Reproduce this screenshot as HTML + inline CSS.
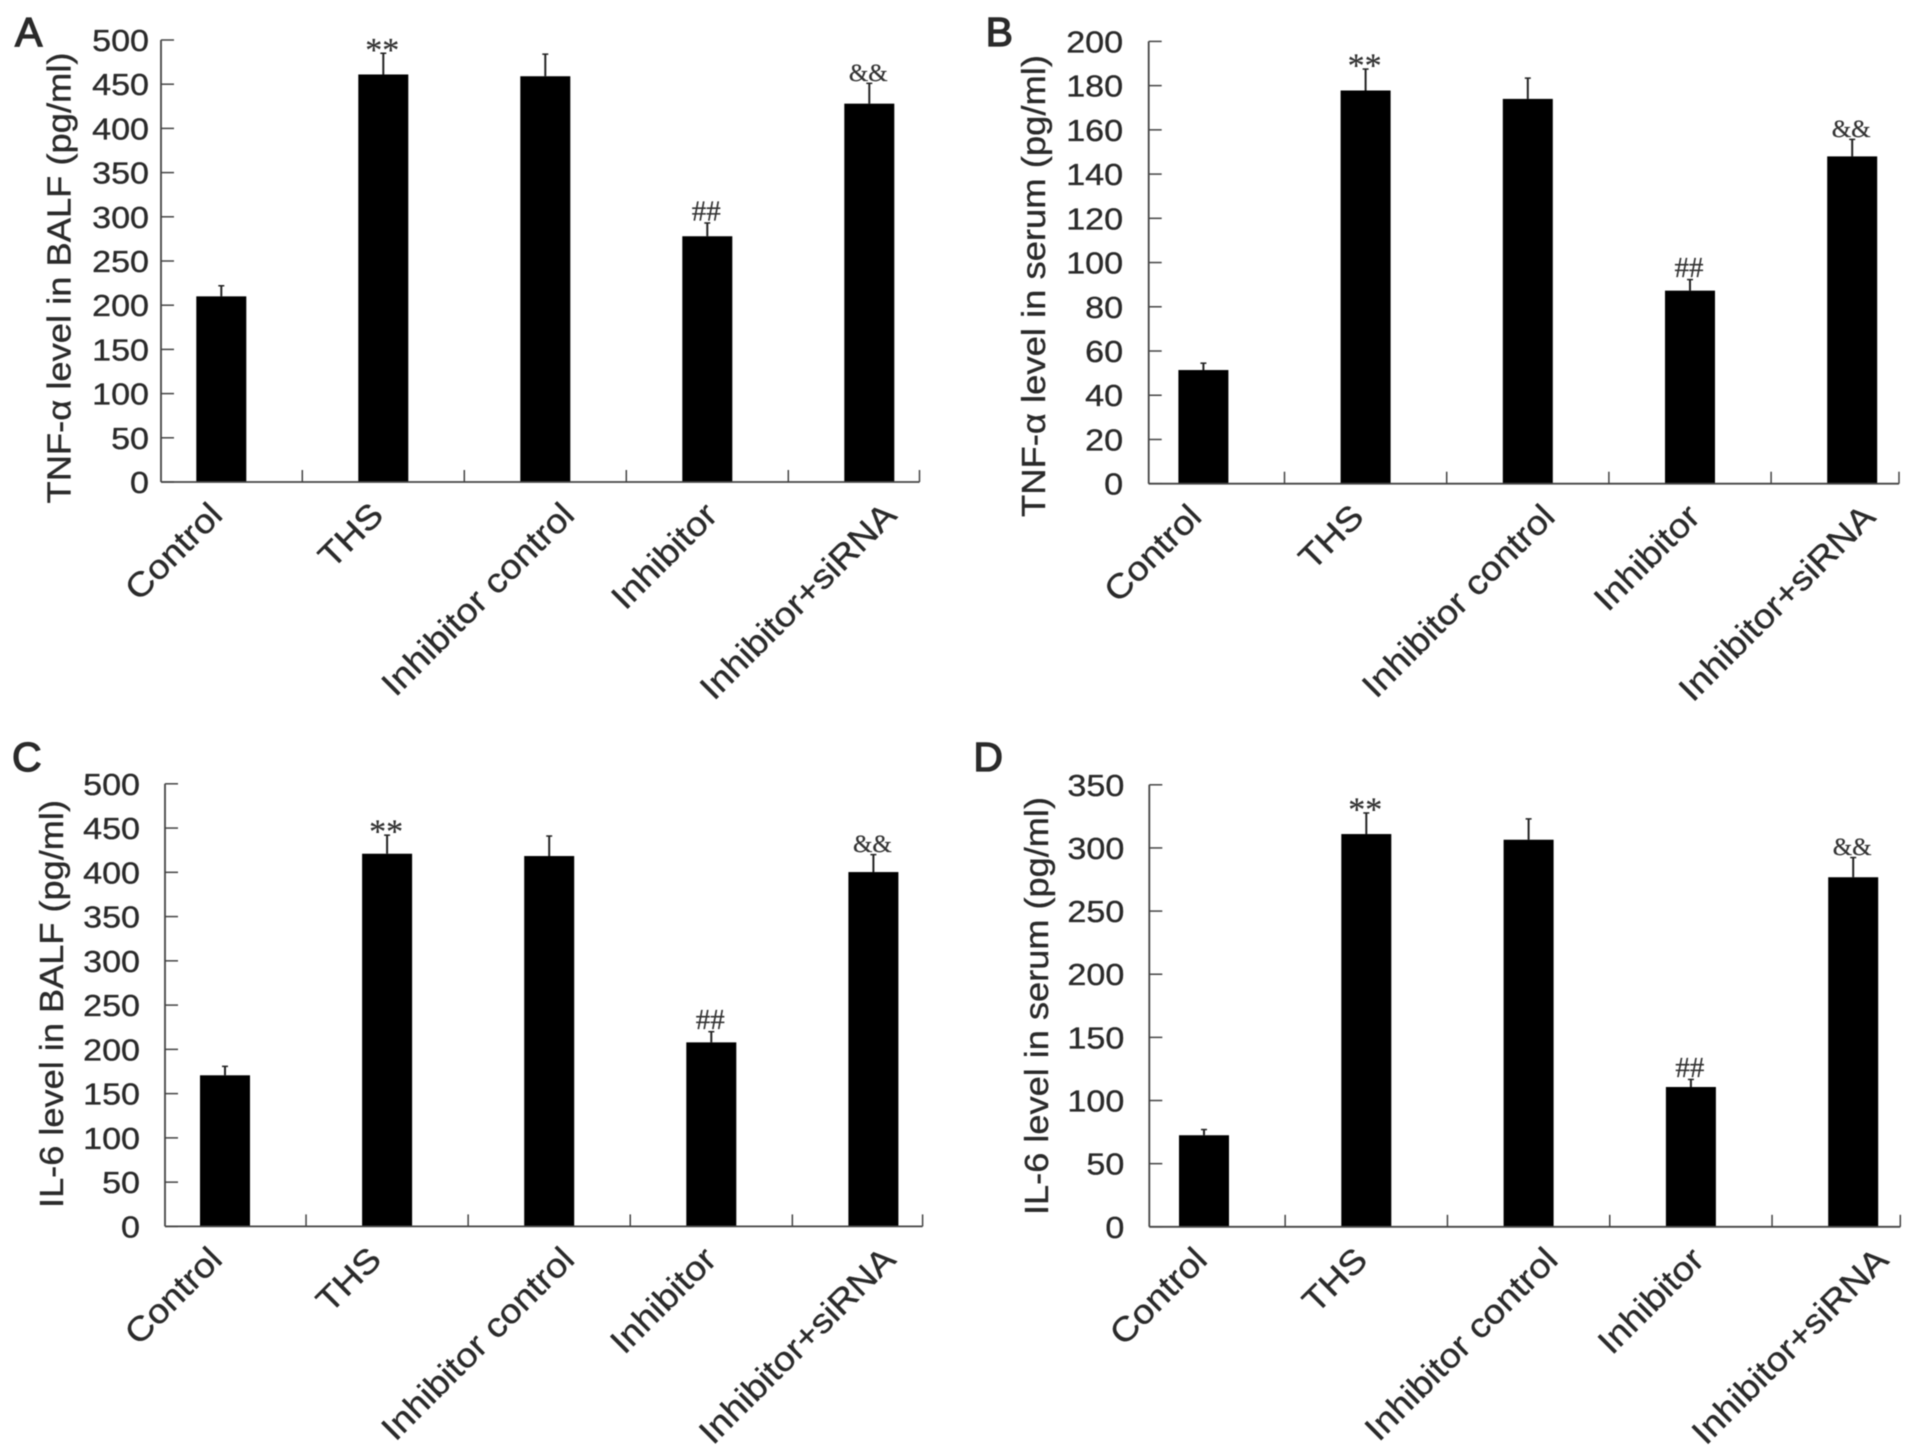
<!DOCTYPE html>
<html lang="en">
<head>
<meta charset="utf-8">
<title>TNF-α and IL-6 levels</title>
<style>
html,body{margin:0;padding:0;background:#fff;width:1913px;height:1455px;overflow:hidden}
svg{display:block;filter:blur(0.5px)}
text{font-family:"Liberation Sans",sans-serif;fill:#2a2a2a;stroke:#2a2a2a;stroke-width:0.35px}
.mark{font-family:"Liberation Serif",serif;fill:#333;stroke-width:0.2px}
</style>
</head>
<body>
<svg id="figure" xmlns="http://www.w3.org/2000/svg" width="1913" height="1455" viewBox="0 0 1913 1455"></svg>
<script>
const categories = ['Control', 'THS', 'Inhibitor control', 'Inhibitor', 'Inhibitor+siRNA'];
const significance = ['', '**', '', '##', '&&'];

const valuesA = [210, 461, 459, 278, 428];
const errorTopsA = [222, 485, 484, 293, 451];
const tickLabelsA = ['0', '50', '100', '150', '200', '250', '300', '350', '400', '450', '500'];

const valuesB = [51.4, 177.8, 174, 87.3, 148];
const errorTopsB = [54.5, 187.5, 183.4, 92.3, 155.7];
const tickLabelsB = ['0', '20', '40', '60', '80', '100', '120', '140', '160', '180', '200'];

const valuesC = [170.7, 421, 418.4, 207.9, 400.3];
const errorTopsC = [180.8, 442, 441, 220, 420];
const tickLabelsC = ['0', '50', '100', '150', '200', '250', '300', '350', '400', '450', '500'];

const valuesD = [72.5, 311, 306.5, 110.7, 276.8];
const errorTopsD = [77, 327.7, 323, 116.7, 292.4];
const tickLabelsD = ['0', '50', '100', '150', '200', '250', '300', '350'];

const panels = [
  {id:'a', letter:'A', letterX:15, letterY:46, title:'TNF-α level in BALF (pg/ml)', values:valuesA, errorTops:errorTopsA, ticks:tickLabelsA,
   left:161, right:919.5, top:40, base:482, first:221.3, step:162, gap:12, titleX:70.5, titleY:278, titleLen:451, shifts:[3,2,31,12,29]},
  {id:'b', letter:'B', letterX:985.6, letterY:46, title:'TNF-α level in serum (pg/ml)', values:valuesB, errorTops:errorTopsB, ticks:tickLabelsB,
   left:1148.7, right:1899, top:41.4, base:483.7, first:1203.4, step:162.2, gap:25.6, titleX:1045, titleY:286, titleLen:462, shifts:[0,0,29,12,25]},
  {id:'c', letter:'C', letterX:12, letterY:771, title:'IL-6 level in BALF (pg/ml)', values:valuesC, errorTops:errorTopsC, ticks:tickLabelsC,
   left:165, right:922.6, top:783.8, base:1226.4, first:225, step:162.1, gap:25, titleX:63, titleY:1004, titleLen:408, shifts:[-1,-4,27,7,24]},
  {id:'d', letter:'D', letterX:973.4, letterY:771, title:'IL-6 level in serum (pg/ml)', values:valuesD, errorTops:errorTopsD, ticks:tickLabelsD,
   left:1149.3, right:1900.3, top:784.8, base:1226.8, first:1204, step:162.3, gap:25, titleX:1048, titleY:1006, titleLen:418, shifts:[5,3,31,15,37]}
];

const NS = 'http://www.w3.org/2000/svg';
const figure = document.getElementById('figure');
const BAR_WIDTH = 50;
const AXIS_COLOR = '#444';

function make(tag, parent) {
  const el = document.createElementNS(NS, tag);
  parent.appendChild(el);
  return el;
}
function setLine(el, x1, y1, x2, y2, color, width) {
  el.setAttribute('x1', x1);
  el.setAttribute('y1', y1);
  el.setAttribute('x2', x2);
  el.setAttribute('y2', y2);
  el.setAttribute('stroke', color);
  el.setAttribute('stroke-width', width);
}

panels.forEach(function (p) {
  const yMax = Number(p.ticks[p.ticks.length - 1]);
  const yScale = function (v) { return p.base - (v / yMax) * (p.base - p.top); };
  const xScale = function (i) { return p.first + i * p.step; };

  const group = make('g', figure);
  
  

  const letter = make('text', group);
  
  
  letter.setAttribute('x', p.letterX);
  letter.setAttribute('y', p.letterY);
  letter.setAttribute('font-size', '41');
  letter.style.strokeWidth = '1.3px';
  letter.textContent = p.letter;

  const title = make('text', group);
  
  
  title.setAttribute('transform', 'translate(' + p.titleX + ',' + p.titleY + ') rotate(-90)');
  title.setAttribute('text-anchor', 'middle');
  title.setAttribute('font-size', '33');
  title.setAttribute('textLength', p.titleLen);
  title.setAttribute('lengthAdjust', 'spacingAndGlyphs');
  title.textContent = p.title;

  // bars and error bars
  p.values.forEach(function (v, i) {
    const cx = xScale(i);
    const errLine = make('line', group);
    
    
    setLine(errLine, cx, yScale(v), cx, yScale(p.errorTops[i]), '#222', 2);

    const errCap = make('line', group);
    
    
    setLine(errCap, cx - 3, yScale(p.errorTops[i]), cx + 3, yScale(p.errorTops[i]), '#222', 1.5);

    const bar = make('rect', group);
    
    
    bar.setAttribute('x', cx - BAR_WIDTH / 2);
    bar.setAttribute('y', yScale(v));
    bar.setAttribute('width', BAR_WIDTH);
    bar.setAttribute('height', p.base - yScale(v));
    bar.setAttribute('fill', '#000');

    if (significance[i]) {
      const sym = significance[i];
      const mark = make('text', group);
      
      
      mark.setAttribute('class', 'mark');
      mark.setAttribute('x', cx - 1);
      mark.setAttribute('text-anchor', 'middle');
      const top = yScale(p.errorTops[i]);
      mark.setAttribute('y', sym === '**' ? top + 7.5 : top - 2.5);
      mark.setAttribute('font-size', sym === '**' ? '34' : sym === '##' ? '29' : '25');
      mark.textContent = sym;
    }

    const label = make('text', group);
    
    
    label.setAttribute('transform', 'translate(' + (cx + p.shifts[i]) + ',' + (p.base + 35) + ') rotate(-45) scale(1.1,1)');
    label.setAttribute('text-anchor', 'end');
    label.setAttribute('font-size', '34');
    label.textContent = categories[i];

    if (i < p.values.length - 1) {
      const tick = make('line', group);
      
      
      setLine(tick, cx + p.step / 2, p.base - 12, cx + p.step / 2, p.base, AXIS_COLOR, 1.5);
    }
  });

  const endTick = make('line', group);
  
  
  setLine(endTick, p.right, p.base - 12, p.right, p.base, AXIS_COLOR, 1.5);

  const xAxis = make('line', group);
  
  
  setLine(xAxis, p.left, p.base, p.right, p.base, AXIS_COLOR, 1.8);

  const yAxis = make('line', group);
  
  
  setLine(yAxis, p.left, p.top, p.left, p.base, AXIS_COLOR, 1.8);

  p.ticks.forEach(function (t) {
    const y = yScale(Number(t));
    const tick = make('line', group);
    
    
    setLine(tick, p.left, y, p.left + 13, y, AXIS_COLOR, 1.5);

    const label = make('text', group);
    
    
    label.setAttribute('transform', 'translate(' + (p.left - p.gap) + ',' + (y + 11) + ') scale(1.1,1)');
    label.setAttribute('text-anchor', 'end');
    label.setAttribute('font-size', '31');
    label.textContent = t;
  });
});
</script>
</body>
</html>
